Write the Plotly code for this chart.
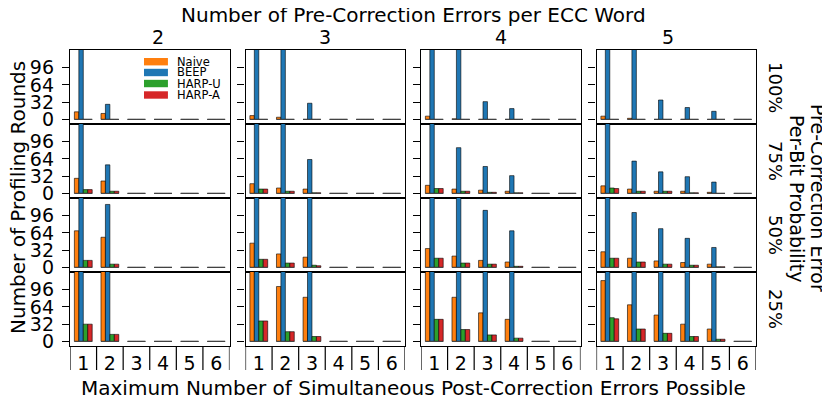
import plotly.graph_objects as go
from plotly.subplots import make_subplots

# x categories: max number of simultaneous post-correction errors possible
categories = [1, 2, 3, 4, 5, 6]
# columns: number of pre-correction errors per ECC word
pre_errors = ["2", "3", "4", "5"]
# rows: pre-correction error per-bit probability
probabilities = ["100%", "75%", "50%", "25%"]
series = ["Naive", "BEEP", "HARP-U", "HARP-A"]
colors = ["#ff7f0e", "#1f77b4", "#2ca02c", "#d62728"]
yticks = [0, 32, 64, 96]

# values[row][col] -> one value per category (bars above 128 are clipped in the figure)
naive = [
    [[14, 11, 0, 0, 0, 0], [7, 4, 0, 0, 0, 0], [6, 1, 0, 0, 0, 0], [6, 2, 0, 0, 0, 0]],
    [[28, 23, 0, 0, 0, 0], [18, 10, 8, 0, 0, 0], [15, 8, 6, 4, 0, 0], [14, 8, 4, 4, 2, 0]],
    [[68, 56, 0, 0, 0, 0], [45, 25, 19, 0, 0, 0], [35, 21, 13, 10, 0, 0], [29, 17, 12, 9, 6, 0]],
    [[180, 140, 0, 0, 0, 0], [170, 102, 82, 0, 0, 0], [150, 82, 53, 41, 0, 0], [113, 68, 49, 32, 23, 0]],
]
beep = [
    [[300, 28, 0, 0, 0, 0], [300, 250, 30, 0, 0, 0], [300, 250, 33, 20, 0, 0], [300, 250, 36, 22, 15, 0]],
    [[300, 53, 0, 0, 0, 0], [300, 250, 63, 0, 0, 0], [300, 85, 50, 33, 0, 0], [300, 60, 40, 31, 21, 0]],
    [[300, 117, 0, 0, 0, 0], [300, 250, 200, 0, 0, 0], [300, 250, 106, 68, 0, 0], [300, 102, 72, 54, 37, 0]],
    [[300, 250, 0, 0, 0, 0], [300, 250, 200, 0, 0, 0], [300, 250, 200, 150, 0, 0], [300, 250, 200, 150, 130, 0]],
]
harp_u = [
    [[0, 0, 0, 0, 0, 0], [0, 0, 0, 0, 0, 0], [0, 0, 0, 0, 0, 0], [0, 0, 0, 0, 0, 0]],
    [[7, 4, 0, 0, 0, 0], [8, 4, 1, 0, 0, 0], [9, 4, 2, 1, 0, 0], [10, 4, 4, 1, 0, 0]],
    [[13, 6, 0, 0, 0, 0], [15, 8, 4, 0, 0, 0], [17, 8, 6, 2, 0, 0], [17, 10, 6, 4, 1, 0]],
    [[32, 13, 0, 0, 0, 0], [38, 18, 9, 0, 0, 0], [41, 22, 12, 6, 0, 0], [44, 23, 15, 9, 4, 0]],
]
harp_a = [
    [[0, 0, 0, 0, 0, 0], [0, 0, 0, 0, 0, 0], [0, 0, 0, 0, 0, 0], [0, 0, 0, 0, 0, 0]],
    [[7, 4, 0, 0, 0, 0], [8, 4, 1, 0, 0, 0], [9, 4, 2, 1, 0, 0], [9, 4, 4, 1, 0, 0]],
    [[13, 6, 0, 0, 0, 0], [15, 8, 3, 0, 0, 0], [17, 8, 6, 2, 0, 0], [17, 10, 6, 4, 1, 0]],
    [[32, 13, 0, 0, 0, 0], [38, 18, 9, 0, 0, 0], [41, 22, 12, 6, 0, 0], [42, 23, 15, 9, 4, 0]],
]
data = [naive, beep, harp_u, harp_a]

FONT = "DejaVu Sans"
# the page body adds an 8px offset, so the figure is a bit smaller than the window
W, H = 822, 391
PL, PR, PT, PB = 70, 756, 50, 346     # plot area in window pixels
OFF = 8
PW, PH = PR - PL, PB - PT
BARGAP = 0.33
GAP = 16

fig = make_subplots(rows=4, cols=4, horizontal_spacing=GAP / PW, vertical_spacing=0)

for r in range(4):
    for c in range(4):
        for s, name in enumerate(series):
            fig.add_trace(go.Bar(
                x=categories, y=data[s][r][c], name=name,
                marker=dict(color=colors[s], line=dict(color="black", width=0.6)),
                showlegend=False,
            ), row=r + 1, col=c + 1)
        # bar baseline (zero-height bars still show their edge)
        bx, by = [], []
        half = (1 - BARGAP) / 2
        for cat in categories:
            bx += [cat - half, cat + half, None]
            by += [0, 0, None]
        fig.add_trace(go.Scatter(x=bx, y=by, mode="lines", line=dict(color="#444", width=1),
                                 showlegend=False, hoverinfo="skip"), row=r + 1, col=c + 1)

fig.update_xaxes(range=[0.5, 6.5], tickvals=categories, showticklabels=False, ticks="",
                 showline=True, mirror=True, linecolor="black", linewidth=1.4,
                 showgrid=False, zeroline=False, tickfont=dict(size=19, color="black"))
fig.update_xaxes(showticklabels=True, row=4)
fig.update_yaxes(range=[-8.6, 129], tickvals=yticks, ticks="outside", ticklen=7, tickwidth=1.2,
                 tickcolor="black", showticklabels=False, showline=True, mirror=True,
                 linecolor="black", linewidth=1.4, showgrid=False, zeroline=False,
                 ticklabelstandoff=4, tickfont=dict(size=19, color="black"))
fig.update_yaxes(showticklabels=True, col=1)

shapes = []
annotations = []

# dividers between the x tick labels
bounds = [cat - 0.5 for cat in categories] + [categories[-1] + 0.5]
for c in range(4):
    xr = "x%d" % (13 + c)
    for b in bounds:
        shapes.append(dict(type="line", xref=xr, yref="paper", x0=b, x1=b, y0=0, y1=-24 / PH,
                           line=dict(color="black", width=1.2)))

# legend inside the first panel
leg_y = [0.842, 0.696, 0.547, 0.392]
for s, name in enumerate(series):
    shapes.append(dict(type="rect", xref="x domain", yref="y domain",
                       x0=0.464, x1=0.614, y0=leg_y[s] - 0.05, y1=leg_y[s] + 0.05,
                       fillcolor=colors[s], line=dict(width=0)))
    annotations.append(dict(xref="x domain", yref="y domain", x=0.66, y=leg_y[s], text=name,
                            showarrow=False, xanchor="left", yanchor="middle",
                            font=dict(size=11.5, color="black")))


def px_x(x):
    return (x - PL) / PW


def px_y(y):
    return (PB - y) / PH


col_w = (PW - 3 * GAP) / 4
for c, lab in enumerate(pre_errors):
    xc = (c * (col_w + GAP) + col_w / 2) / PW
    annotations.append(dict(xref="paper", yref="paper", x=xc, y=px_y(37), text=lab,
                            showarrow=False, yanchor="middle", font=dict(size=19)))
for r, lab in enumerate(probabilities):
    annotations.append(dict(xref="paper", yref="paper", x=px_x(776), y=1 - (r + 0.5) / 4,
                            text=lab, textangle=90, showarrow=False, xanchor="center",
                            yanchor="middle", font=dict(size=18)))

annotations += [
    dict(xref="paper", yref="paper", x=0.5, y=px_y(15),
         text="Number of Pre-Correction Errors per ECC Word", showarrow=False,
         yanchor="middle", font=dict(size=20)),
    dict(xref="paper", yref="paper", x=0.5, y=px_y(388),
         text="Maximum Number of Simultaneous Post-Correction Errors Possible",
         showarrow=False, yanchor="middle", font=dict(size=20)),
    dict(xref="paper", yref="paper", x=px_x(18), y=0.5, text="Number of Profiling Rounds",
         textangle=-90, showarrow=False, xanchor="center", yanchor="middle", font=dict(size=20)),
    dict(xref="paper", yref="paper", x=px_x(818), y=0.5, text="Pre-Correction Error",
         textangle=90, showarrow=False, xanchor="center", yanchor="middle", font=dict(size=19)),
    dict(xref="paper", yref="paper", x=px_x(797), y=0.5, text="Per-Bit Probability",
         textangle=90, showarrow=False, xanchor="center", yanchor="middle", font=dict(size=19)),
]

fig.update_layout(
    width=W, height=H,
    margin=dict(l=PL - OFF, r=W - (PR - OFF), t=PT - OFF, b=H - (PB - OFF)),
    barmode="group", bargap=BARGAP, bargroupgap=0,
    plot_bgcolor="white", paper_bgcolor="white",
    font=dict(family=FONT, color="black"),
    shapes=shapes, annotations=annotations,
    showlegend=False,
)

fig.write_html("out.html")
